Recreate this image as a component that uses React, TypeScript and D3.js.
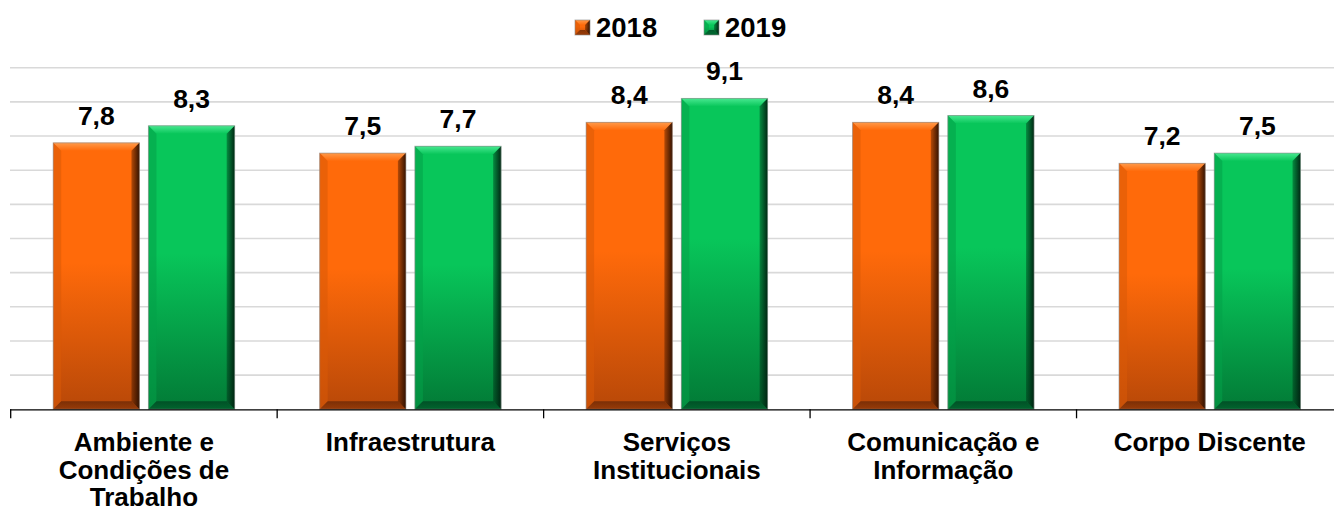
import React from "react";
import * as d3 from "d3";

const categories: string[][] = [
  ["Ambiente e", "Condições de", "Trabalho"],
  ["Infraestrutura"],
  ["Serviços", "Institucionais"],
  ["Comunicação e", "Informação"],
  ["Corpo Discente"],
];
const seriesNames = ["2018", "2019"];
const values2018 = [7.8, 7.5, 8.4, 8.4, 7.2];
const values2019 = [8.3, 7.7, 9.1, 8.6, 7.5];
const yTicks = [1, 2, 3, 4, 5, 6, 7, 8, 9, 10];

const W = 1334;
const H = 512;

const palette: Record<string, { top: string; bottom: string; light: string; dark: string; bot: string; left: string }> = {
  "2018": { top: "#ff6a0a", bottom: "#b84808", light: "#ff9a4a", dark: "#2a0e00", bot: "#6a2806", left: "#d95a08" },
  "2019": { top: "#08c65a", bottom: "#027a36", light: "#48e890", dark: "#002010", bot: "#004522", left: "#04a048" },
};

function Bar({ x, y, w, h, s }: { x: number; y: number; w: number; h: number; s: string }) {
  const c = palette[s];
  const b = Math.min(8, w / 3);
  const x1 = x + w;
  const y1 = y + h;
  return (
    <g>
      <rect x={x} y={y} width={w} height={h} fill={`url(#body-${s})`} />
      <polygon points={`${x},${y} ${x1},${y} ${x1 - b},${y + b} ${x + b},${y + b}`} fill={`url(#topb-${s})`} />
      <polygon points={`${x},${y} ${x + b},${y + b} ${x + b},${y1 - b} ${x},${y1}`} fill={c.left} opacity={0.55} />
      <polygon points={`${x1},${y} ${x1},${y1} ${x1 - b},${y1 - b} ${x1 - b},${y + b}`} fill={`url(#rightb-${s})`} />
      <polygon points={`${x},${y1} ${x + b},${y1 - b} ${x1 - b},${y1 - b} ${x1},${y1}`} fill={`url(#botb-${s})`} />
      <rect x={x} y={y} width={w} height={h} fill="none" stroke="#8a8a8a" strokeOpacity={0.6} strokeWidth={1} />
    </g>
  );
}

export default function App() {
  const x0 = d3.scaleBand<number>().domain(d3.range(categories.length)).range([10.7, 1343]).paddingInner(0).paddingOuter(0);
  const step = x0.bandwidth();
  const x1 = d3.scaleBand<string>().domain(seriesNames).range([42.5, step - 42.5]).paddingInner(0.0947).paddingOuter(0);
  const y = d3.scaleLinear().domain([0, 10]).range([409.3, 67.7]);
  const seriesValues: Record<string, number[]> = { "2018": values2018, "2019": values2019 };
  const font = "'Liberation Sans', Arial, sans-serif";
  const fmt = (v: number) => d3.format(".1f")(v).replace(".", ",");
  const baseY = y(0);

  return (
    <svg width={W} height={H} style={{ position: "absolute", left: 0, top: 0, background: "#fff" }} fontFamily={font}>
      <defs>
        {seriesNames.map((s) => {
          const c = palette[s];
          return (
            <React.Fragment key={s}>
              <linearGradient id={`body-${s}`} x1="0" y1="0" x2="0" y2="1">
                <stop offset="0" stopColor={c.top} />
                <stop offset="0.45" stopColor={c.top} />
                <stop offset="1" stopColor={c.bottom} />
              </linearGradient>
              <linearGradient id={`topb-${s}`} x1="0" y1="0" x2="0" y2="1">
                <stop offset="0" stopColor={c.light} />
                <stop offset="1" stopColor={c.top} />
              </linearGradient>
              <linearGradient id={`rightb-${s}`} x1="0" y1="0" x2="1" y2="0">
                <stop offset="0" stopColor={c.dark} stopOpacity={0.35} />
                <stop offset="1" stopColor={c.dark} stopOpacity={0.95} />
              </linearGradient>
              <linearGradient id={`botb-${s}`} x1="0" y1="0" x2="0" y2="1">
                <stop offset="0" stopColor={c.bot} stopOpacity={0.8} />
                <stop offset="1" stopColor={c.bot} stopOpacity={0.4} />
              </linearGradient>
            </React.Fragment>
          );
        })}
      </defs>

      {yTicks.map((t) => (
        <line key={t} x1={10} x2={W} y1={y(t)} y2={y(t)} stroke="#d9d9d9" strokeWidth={1.6} />
      ))}

      {categories.map((_, i) =>
        seriesNames.map((s) => {
          const v = seriesValues[s][i];
          const bx = (x0(i) as number) + (x1(s) as number);
          const by = y(v);
          return (
            <g key={`${i}-${s}`}>
              <Bar x={bx} y={by} w={x1.bandwidth()} h={baseY - by} s={s} />
              <text x={bx + x1.bandwidth() / 2} y={by - 18} textAnchor="middle" fontSize={26.5} fontWeight="bold" fill="#000">
                {fmt(v)}
              </text>
            </g>
          );
        })
      )}

      <line x1={10} x2={W} y1={baseY + 0.5} y2={baseY + 0.5} stroke="#000" strokeWidth={1.3} />
      {d3.range(categories.length + 1).map((i) => {
        const tx = 10.7 + i * step;
        return <line key={i} x1={tx} x2={tx} y1={baseY} y2={baseY + 9} stroke="#000" strokeWidth={1.3} />;
      })}

      {categories.map((lines, i) => (
        <text key={i} textAnchor="middle" fontSize={26} fontWeight="bold" fill="#000">
          {lines.map((ln, j) => (
            <tspan key={j} x={(x0(i) as number) + step / 2} y={451 + j * 27.5}>
              {ln}
            </tspan>
          ))}
        </text>
      ))}

      {seriesNames.map((s, k) => {
        const lx = k === 0 ? 575 : 704;
        return (
          <g key={s}>
            <Bar x={lx} y={20} w={15} h={15} s={s} />
            <text x={lx + 21} y={36.5} fontSize={27.5} fontWeight="bold" fill="#000">
              {s}
            </text>
          </g>
        );
      })}
    </svg>
  );
}
